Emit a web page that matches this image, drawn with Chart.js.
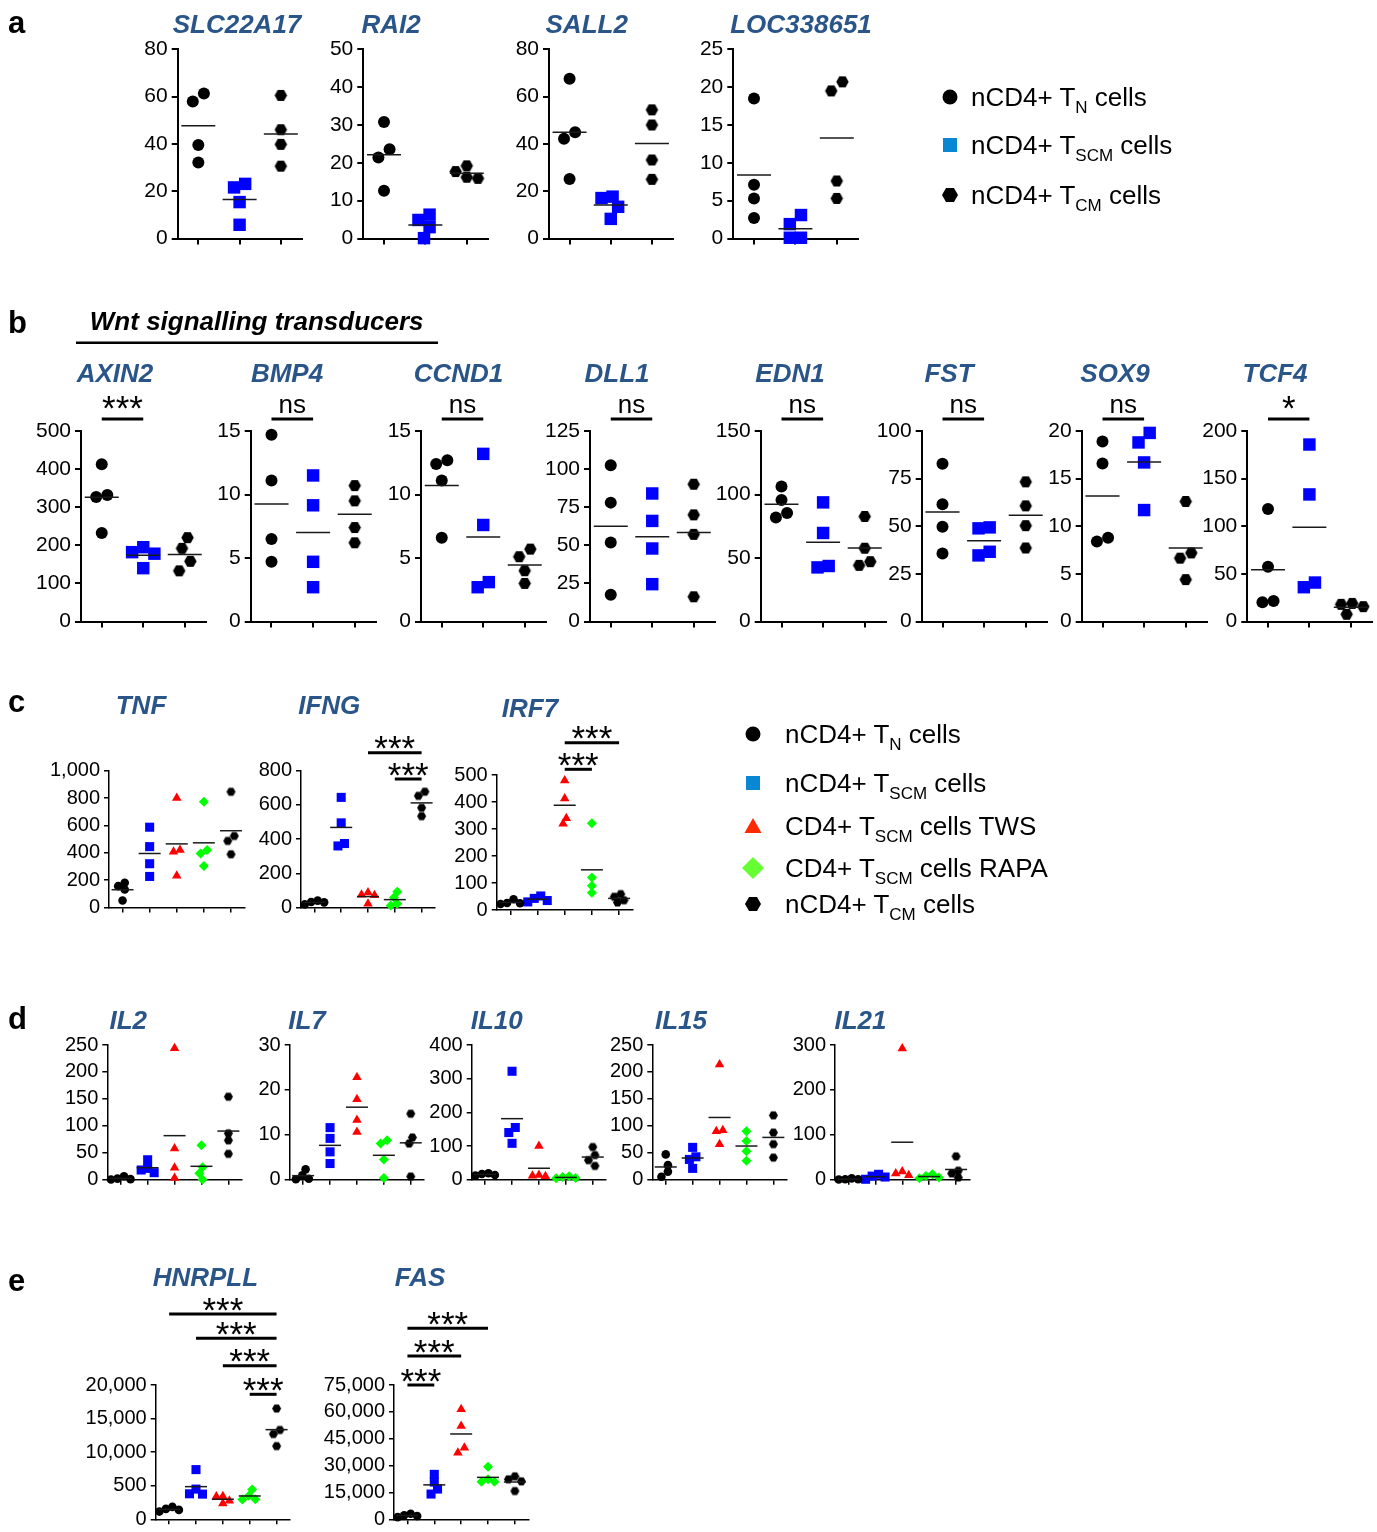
<!DOCTYPE html>
<html>
<head>
<meta charset="utf-8">
<title>Gene expression dot plots</title>
<script src="https://cdn.jsdelivr.net/npm/chart.js@4.4.1/dist/chart.umd.min.js"></script>
<style>
 html, body { margin:0; padding:0; background:#fff; }
 #stage { position:relative; width:1377px; height:1532px; overflow:hidden; background:#fff; }
 #stage canvas { position:absolute; z-index:1; }
 #overlay { position:absolute; left:0; top:0; z-index:2; pointer-events:none; }
</style>
</head>
<body>
<div id="stage"></div>
<script>
// ================= DATA =================
const groups3 = ['nCD4+ TN cells', 'nCD4+ TSCM cells', 'nCD4+ TCM cells'];
const groups5 = ['nCD4+ TN cells', 'nCD4+ TSCM cells', 'CD4+ TSCM cells TWS', 'CD4+ TSCM cells RAPA', 'nCD4+ TCM cells'];

// panel a  (rows: TN, TSCM, TCM)
const genesA = ['SLC22A17', 'RAI2', 'SALL2', 'LOC338651'];
const SLC22A17 = [[57.9, 61.3, 39.5, 32.1], [21.6, 23.1, 15.4, 5.8], [60.5, 46.0, 39.8, 30.6]];
const RAI2 = [[30.8, 23.6, 21.4, 12.6], [6.3, 3.0, 4.9, 0.1], [17.7, 15.9, 16.2, 19.2]];
const SALL2 = [[67.5, 44.9, 42.2, 25.2], [17.7, 17.1, 13.4, 8.3], [54.4, 48.0, 33.2, 25.0]];
const LOC338651 = [[18.5, 7.1, 5.3, 2.7], [3.1, 1.9, 0.1, 0.1], [19.5, 20.7, 7.6, 5.3]];
const yMaxA = [80, 50, 80, 25];
const yStepA = [20, 10, 20, 5];

// panel b
const genesB = ['AXIN2', 'BMP4', 'CCND1', 'DLL1', 'EDN1', 'FST', 'SOX9', 'TCF4'];
const AXIN2 = [[413, 332, 327, 232], [195, 182, 178, 140], [220, 192, 158, 133]];
const BMP4 = [[14.7, 11.1, 6.5, 4.7], [11.5, 9.15, 4.7, 2.7], [10.7, 9.5, 7.4, 6.2]];
const CCND1 = [[12.4, 12.7, 11.1, 6.6], [13.2, 7.6, 2.7, 3.1], [5.7, 5.1, 4.0, 3.0]];
const DLL1 = [[102.5, 78, 51.8, 17.5], [84, 66, 47.9, 24.5], [90.1, 70, 57.2, 16.2]];
const EDN1 = [[106.3, 95.7, 81.9, 85.5], [93.8, 69.7, 42.6, 43.7], [82.7, 57.7, 44.2, 47.1]];
const FST = [[82.8, 61.5, 49.7, 35.7], [49.4, 48.9, 34.7, 36.6], [73.3, 60.7, 50.3, 38.6]];
const SOX9 = [[18.9, 16.6, 8.4, 8.8], [19.8, 18.8, 16.7, 11.7], [12.6, 7.2, 6.65, 4.4]];
const TCF4 = [[118.2, 57.5, 20.1, 21.5], [185.8, 133.4, 36, 40.9], [18, 19, 15.6, 7.6]];
const yMaxB = [500, 15, 15, 125, 150, 100, 20, 200];
const yStepB = [100, 5, 5, 25, 50, 25, 5, 50];
const sigB = ['***', 'ns', 'ns', 'ns', 'ns', 'ns', 'ns', '*'];   // TN vs TSCM

// panel c  (rows: TN, TSCM, TWS, RAPA, TCM)
const genesC = ['TNF', 'IFNG', 'IRF7'];
const TNF = [[156, 181, 132, 51], [587, 445, 320, 227], [800, 420, 408, 232], [773, 421, 394, 303], [846, 523, 487, 389]];
const IFNG = [[30, 18, 40, 32], [644, 495, 360, 374], [72, 88, 22, 74], [92, 58, 22, 12], [677, 653, 583, 534]];
const IRF7 = [[25, 22, 26, 40], [43, 35, 52, 30], [480, 413, 340, 319], [321, 120, 90, 64], [28, 59, 49, 36]];
const yMaxC = [1000, 800, 500];
const yStepC = [200, 200, 100];
const sigTNF = [];
const sigIFNG = [[3, 5, '***'], [4, 5, '***']];
const sigIRF7 = [[3, 5, '***'], [3, 4, '***']];

// panel d
const genesD = ['IL2', 'IL7', 'IL10', 'IL15', 'IL21'];
const IL2 = [[2, 0.5, 1, 6.5], [37, 18, 21, 13], [244, 58, 22, 3], [64, 23, 12, 0.5], [154, 86, 73, 48]];
const IL7 = [[1.0, 0.2, 0.1, 2.3], [11.6, 9.2, 6.2, 3.6], [22.8, 17.9, 13.3, 10.6], [8.05, 8.8, 4.5, 0.4], [14.7, 9.4, 8.05, 0.7]];
const IL10 = [[14, 12, 17, 19], [322, 155, 140, 108], [100, 14, 12, 10], [8, 5, 10, 4], [97, 73, 58, 41]];
const IL15 = [[47, 27, 15, 5.5], [60, 42.5, 37.6, 21], [214, 92, 90, 66], [90, 72, 53, 35], [119.5, 87.4, 66, 41]];
const IL21 = [[1, 0.5, 1, 3], [6, 8, 12, 1], [292, 18, 14, 10], [8, 3, 12, 5], [52, 20, 14, 5]];
const yMaxD = [250, 30, 400, 250, 300];
const yStepD = [50, 10, 100, 50, 100];

// panel e
const genesE = ['HNRPLL', 'FAS'];
const HNRPLL = [[1400, 1150, 1550, 1850], [7400, 4500, 3800, 3750], [3400, 3450, 2350, 2750], [4450, 3500, 2950, 3000], [16500, 13300, 12700, 10900]];
const FAS = [[1800, 1200, 2300, 3100], [25100, 14100, 16900, 20800], [61400, 52100, 40000, 37100], [29400, 22300, 21000, 21000], [24000, 22300, 21200, 15800]];
const yMaxE = [20000, 75000];
const yStepE = [5000, 15000];
const hnrpllTickLabels = ['0', '500', '10,000', '15,000', '20,000'];
const sigHNRPLL = [[1, 5, '***'], [2, 5, '***'], [3, 5, '***'], [4, 5, '***']];
const sigFAS = [[1, 4, '***'], [1, 3, '***'], [1, 2, '***']];

// legends
const legendA = [['nCD4+ T', 'N', ' cells', 'TN'], ['nCD4+ T', 'SCM', ' cells', 'TSCM'], ['nCD4+ T', 'CM', ' cells', 'TCM']];
const legendC = [['nCD4+ T', 'N', ' cells', 'TN'], ['nCD4+ T', 'SCM', ' cells', 'TSCM'], ['CD4+ T', 'SCM', ' cells TWS', 'TWS'],
                 ['CD4+ T', 'SCM', ' cells RAPA', 'RAPA'], ['nCD4+ T', 'CM', ' cells', 'TCM']];

// ================= LAYOUT / STYLE =================
const FONT = '"Liberation Sans", Arial, Helvetica, sans-serif';
const TITLE_COLOR = '#2a5589';
const MARK = {
  TN:   { shape: 'circle',   color: '#000000' },
  TSCM: { shape: 'rect',     color: '#0000ff' },
  TWS:  { shape: 'triangle', color: '#ff0000' },
  RAPA: { shape: 'rectRot',  color: '#00ff00' },
  TCM:  { shape: 'hex',      color: '#000000' }
};
const BIG = { font: 21, axis: 2, tick: 6, meanHalf: 17, meanW: 1.5, diam: 11.5,
              circle: 6, rect: 8.8, triangle: 7, rectRot: 7, hex: 12.5, starGap: 16.5, nsGap: 5.7 };
const SMALL = { font: 20, axis: 1.5, tick: 5, meanHalf: 11, meanW: 1.5, diam: 6.5,
              circle: 4.3, rect: 6.4, triangle: 5.5, rectRot: 5, hex: 9, starGap: 10, nsGap: 5.7 };

const LAY_A = { top: 49.3, bottom: 241, w: 128, pt: 20, x0: [177.7, 363.3, 549, 733.3],
                titleX: [237, 391, 586.7, 801], titleY: 33.3 };
const LAY_B = { top: 431, bottom: 623.3, w: 128.5, pt: 55, x0: [81, 250.7, 421, 590, 760.7, 921.7, 1081.7, 1247.3],
                titleX: [115, 287, 458.5, 617, 790, 949, 1115, 1275], titleY: 381.7, sigY: 419 };
const LAY_C = [ { x0: 109, top: 770.7, bottom: 907.5, w: 135.5, pt: 60, titleX: 141, titleY: 714.3, sigY: [] },
                { x0: 301, top: 770.7, bottom: 907.5, w: 134, pt: 60, titleX: 329.3, titleY: 714.3, sigY: [752.7, 779] },
                { x0: 496.7, top: 775, bottom: 910, w: 136, pt: 60, titleX: 530, titleY: 716.7, sigY: [742.7, 769.3] } ];
const LAY_D = { top: 1044.3, bottom: 1179.7, w: 134.5, pt: 15, x0: [107.3, 289.7, 471.7, 652.3, 835],
                titleX: [128.3, 307, 496.7, 681, 860.5], titleY: 1029.3 };
const LAY_E = { top: 1385, bottom: 1519.3, w: 134.3, pt: 105, x0: [155.7, 394], titleX: [205.4, 420], titleY: 1285.7,
                sigY: [[1314, 1338.3, 1365.7, 1394.3], [1328.3, 1356, 1385]] };

const stage = document.getElementById('stage');

function mean(a) { return a.reduce((s, v) => s + v, 0) / a.length; }

// beeswarm: horizontal spread of points that would overlap (pixel space)
function swarm(vals, pxY, pxX, d) {
  const n = vals.length;
  const idx = [...vals.keys()].sort((a, b) => (vals[b] - vals[a]) || (a - b));
  const pos = new Array(n);
  const placed = [];
  const h = d / 2;
  for (const i of idx) {
    const y = vals[i] * pxY;
    let chosen = 0;
    for (let m = 0; m < 60; m++) {
      const c = m === 0 ? 0 : (m % 2 === 1 ? -Math.ceil(m / 2) * h : Math.ceil(m / 2) * h);
      if (placed.every(p => (p.x - c) * (p.x - c) + (p.y - y) * (p.y - y) >= d * d * 0.999)) { chosen = c; break; }
    }
    pos[i] = { x: chosen, y: y };
    placed.push(pos[i]);
  }
  const comp = new Array(n).fill(-1);
  let k = 0;
  for (const i of idx) {
    if (comp[i] >= 0) continue;
    const stack = [i]; comp[i] = k;
    while (stack.length) {
      const a = stack.pop();
      for (let j = 0; j < n; j++) {
        if (comp[j] < 0 && Math.abs(pos[j].y - pos[a].y) < d) { comp[j] = k; stack.push(j); }
      }
    }
    k++;
  }
  for (let c = 0; c < k; c++) {
    const mem = [...Array(n).keys()].filter(j => comp[j] === c);
    const mx = mem.reduce((s, j) => s + pos[j].x, 0) / mem.length;
    mem.forEach(j => { pos[j].x -= mx; });
  }
  return pos.map(p => p.x / pxX);
}

function hexImg(size, color) {
  const c = document.createElement('canvas');
  const s = Math.ceil(size) + 2;
  c.width = s; c.height = s;
  const g = c.getContext('2d');
  const r = size / 2;
  g.fillStyle = color;
  g.beginPath();
  for (let k = 0; k < 6; k++) {
    const a = Math.PI / 3 * k;
    const px = s / 2 + r * Math.cos(a), py = s / 2 + r * Math.sin(a);
    if (k === 0) g.moveTo(px, py); else g.lineTo(px, py);
  }
  g.closePath();
  g.fill();
  return c;
}

function sigPlugin(bars, canvasTop, sty) {
  return {
    id: 'sigbars',
    afterDraw(chart) {
      const ctx = chart.ctx, xs = chart.scales.x;
      bars.forEach(b => {
        const x1 = xs.getPixelForValue(b.from), x2 = xs.getPixelForValue(b.to), y = b.y - canvasTop;
        ctx.save();
        ctx.strokeStyle = '#000'; ctx.lineWidth = 3; ctx.lineCap = 'butt';
        ctx.beginPath(); ctx.moveTo(x1, y); ctx.lineTo(x2, y); ctx.stroke();
        const star = b.label.indexOf('*') >= 0;
        ctx.font = (star ? '35px ' : '26px ') + FONT;
        ctx.fillStyle = '#000'; ctx.textAlign = 'center'; ctx.textBaseline = 'alphabetic';
        let base;
        if (star) {
          const m = ctx.measureText(b.label);
          base = y - sty.starGap + (m.actualBoundingBoxAscent - m.actualBoundingBoxDescent) / 2;
        } else {
          base = y - sty.nsGap;
        }
        ctx.fillText(b.label, (x1 + x2) / 2, base);
        ctx.restore();
      });
    }
  };
}

function buildChart(spec) {
  const { x0, top, bottom, w, pt, groups, yMax, yStep, tickLabels, bars, sty } = spec;
  const n = groups.length;
  const plotH = bottom - top;
  const cl = Math.floor(x0 - 80), yw = x0 - cl;
  const ct = Math.floor(top - pt), ptE = top - ct;
  const W = Math.ceil(yw + w + 14), padR = W - yw - w;
  const H = Math.ceil(ptE + plotH + 16), xh = H - ptE - plotH;
  const cv = document.createElement('canvas');
  cv.width = W; cv.height = H;
  cv.style.left = cl + 'px'; cv.style.top = ct + 'px';
  cv.style.width = W + 'px'; cv.style.height = H + 'px';
  stage.appendChild(cv);

  const pxY = plotH / yMax, pxX = w / n;
  const keys = n === 3 ? ['TN', 'TSCM', 'TCM'] : ['TN', 'TSCM', 'TWS', 'RAPA', 'TCM'];
  const datasets = [];
  groups.forEach((vals, gi) => {
    const mk = MARK[keys[gi]];
    const off = swarm(vals, pxY, pxX, sty.diam);
    const isHex = mk.shape === 'hex';
    datasets.push({
      label: (n === 3 ? groups3 : groups5)[gi],
      data: vals.map((v, k) => ({ x: gi + 1 + off[k], y: v })),
      pointStyle: isHex ? hexImg(sty.hex, mk.color) : mk.shape,
      pointRadius: isHex ? sty.hex / 2 : sty[mk.shape],
      pointBackgroundColor: mk.color, backgroundColor: mk.color,
      pointBorderWidth: 0, borderWidth: 0, clip: false, order: 1
    });
  });
  datasets.push({
    label: 'mean',
    data: groups.map((vals, gi) => ({ x: gi + 1, y: mean(vals) })),
    pointStyle: 'line', pointRadius: sty.meanHalf,
    pointBorderColor: '#1a1a1a', borderColor: '#1a1a1a',
    pointBorderWidth: sty.meanW, borderWidth: sty.meanW, clip: false, order: 0
  });

  const gridOpt = { display: true, drawOnChartArea: false, drawTicks: true, tickLength: sty.tick,
                    color: '#000', tickColor: '#000', lineWidth: sty.axis, tickWidth: sty.axis };
  const borderOpt = { display: true, color: '#000', width: sty.axis };
  const yTicks = { stepSize: yStep, color: '#000', font: { family: FONT, size: sty.font }, padding: 4, autoSkip: false };
  if (tickLabels) yTicks.callback = (v) => tickLabels[Math.round(v / yStep)];

  new Chart(cv, {
    type: 'scatter',
    data: { datasets },
    options: {
      responsive: false, animation: false, events: [], devicePixelRatio: 1, locale: 'en-US',
      layout: { padding: { left: 0, right: padR, top: ptE, bottom: 0 } },
      plugins: { legend: { display: false }, tooltip: { enabled: false }, title: { display: false } },
      scales: {
        x: {
          type: 'linear', min: 0.5, max: n + 0.5, bounds: 'data',
          afterFit: (s) => { s.height = xh; },
          afterBuildTicks: (s) => { s.ticks = Array.from({ length: n }, (_, i) => ({ value: i + 1 })); },
          grid: gridOpt, border: borderOpt, ticks: { display: false, autoSkip: false }
        },
        y: {
          type: 'linear', min: 0, max: yMax,
          afterFit: (s) => { s.width = yw; },
          grid: gridOpt, border: borderOpt, ticks: yTicks
        }
      }
    },
    plugins: [sigPlugin(bars || [], ct, sty)]
  });
}

// ---- panel a
const dataA = [SLC22A17, RAI2, SALL2, LOC338651];
genesA.forEach((g, i) => buildChart({ x0: LAY_A.x0[i], top: LAY_A.top, bottom: LAY_A.bottom, w: LAY_A.w, pt: LAY_A.pt,
  groups: dataA[i], yMax: yMaxA[i], yStep: yStepA[i], bars: [], sty: BIG }));

// ---- panel b
const dataB = [AXIN2, BMP4, CCND1, DLL1, EDN1, FST, SOX9, TCF4];
genesB.forEach((g, i) => buildChart({ x0: LAY_B.x0[i], top: LAY_B.top, bottom: LAY_B.bottom, w: LAY_B.w, pt: LAY_B.pt,
  groups: dataB[i], yMax: yMaxB[i], yStep: yStepB[i], bars: [{ from: 1, to: 2, label: sigB[i], y: LAY_B.sigY }], sty: BIG }));

// ---- panel c
const dataC = [TNF, IFNG, IRF7];
const sigC = [sigTNF, sigIFNG, sigIRF7];
genesC.forEach((g, i) => {
  const L = LAY_C[i];
  buildChart({ x0: L.x0, top: L.top, bottom: L.bottom, w: L.w, pt: L.pt, groups: dataC[i], yMax: yMaxC[i], yStep: yStepC[i],
    bars: sigC[i].map((s, k) => ({ from: s[0], to: s[1], label: s[2], y: L.sigY[k] })), sty: SMALL });
});

// ---- panel d
const dataD = [IL2, IL7, IL10, IL15, IL21];
genesD.forEach((g, i) => buildChart({ x0: LAY_D.x0[i], top: LAY_D.top, bottom: LAY_D.bottom, w: LAY_D.w, pt: LAY_D.pt,
  groups: dataD[i], yMax: yMaxD[i], yStep: yStepD[i], bars: [], sty: SMALL }));

// ---- panel e
const dataE = [HNRPLL, FAS];
const sigE = [sigHNRPLL, sigFAS];
genesE.forEach((g, i) => buildChart({ x0: LAY_E.x0[i], top: LAY_E.top, bottom: LAY_E.bottom, w: LAY_E.w, pt: LAY_E.pt,
  groups: dataE[i], yMax: yMaxE[i], yStep: yStepE[i], tickLabels: i === 0 ? hnrpllTickLabels : null,
  bars: sigE[i].map((s, k) => ({ from: s[0], to: s[1], label: s[2], y: LAY_E.sigY[i][k] })), sty: SMALL }));

// ================= TEXT OVERLAY =================
function esc(s) { return s.replace(/&/g, '&amp;').replace(/</g, '&lt;'); }
function title(x, y, t) {
  return `<text x="${x}" y="${y}" text-anchor="middle" font-size="26" font-weight="bold" font-style="italic" fill="${TITLE_COLOR}">${esc(t)}</text>`;
}
function legendMarker(key, cx, cy) {
  if (key === 'TN') return `<circle cx="${cx}" cy="${cy}" r="7.5" fill="#000"/>`;
  if (key === 'TSCM') return `<rect x="${cx - 7}" y="${cy - 7}" width="14" height="14" fill="#0a87d3"/>`;
  if (key === 'TWS') return `<polygon points="${cx},${cy - 8} ${cx - 8.5},${cy + 7} ${cx + 8.5},${cy + 7}" fill="#ff2a00"/>`;
  if (key === 'RAPA') return `<polygon points="${cx},${cy - 11} ${cx + 11},${cy} ${cx},${cy + 11} ${cx - 11},${cy}" fill="#66ff33"/>`;
  const r = 8, pts = [];
  for (let k = 0; k < 6; k++) { const a = Math.PI / 3 * k; pts.push((cx + r * Math.cos(a)).toFixed(2) + ',' + (cy + r * Math.sin(a)).toFixed(2)); }
  return `<polygon points="${pts.join(' ')}" fill="#000"/>`;
}
function legendRow(item, mx, tx, cy) {
  return legendMarker(item[3], mx, cy) +
    `<text x="${tx}" y="${cy + 9}" font-size="26" fill="#000" style="white-space:pre">${esc(item[0])}<tspan font-size="17" dy="7">${esc(item[1])}</tspan><tspan dy="-7">${esc(item[2])}</tspan></text>`;
}

let svg = `<svg id="overlay" width="1377" height="1532" xmlns="http://www.w3.org/2000/svg" font-family="Liberation Sans, Arial, Helvetica, sans-serif">`;
// panel letters
[['a', 33.3], ['b', 333.3], ['c', 711.7], ['d', 1029.3], ['e', 1291]].forEach(p => {
  svg += `<text x="8" y="${p[1]}" font-size="31" font-weight="bold" fill="#000">${p[0]}</text>`;
});
genesA.forEach((g, i) => { svg += title(LAY_A.titleX[i], LAY_A.titleY, g); });
genesB.forEach((g, i) => { svg += title(LAY_B.titleX[i], LAY_B.titleY, g); });
genesC.forEach((g, i) => { svg += title(LAY_C[i].titleX, LAY_C[i].titleY, g); });
genesD.forEach((g, i) => { svg += title(LAY_D.titleX[i], LAY_D.titleY, g); });
genesE.forEach((g, i) => { svg += title(LAY_E.titleX[i], LAY_E.titleY, g); });
// Wnt heading
svg += `<text x="256.7" y="330" text-anchor="middle" font-size="26" font-weight="bold" font-style="italic" fill="#000">Wnt signalling transducers</text>`;
svg += `<line x1="76" y1="342.7" x2="438" y2="342.7" stroke="#000" stroke-width="2.5"/>`;
// legends
[97, 145, 195].forEach((cy, i) => { svg += legendRow(legendA[i], 950, 971, cy); });
[734, 783, 826, 868, 904].forEach((cy, i) => { svg += legendRow(legendC[i], 753, 785, cy); });
svg += `</svg>`;
stage.insertAdjacentHTML('beforeend', svg);
</script>
</body>
</html>
